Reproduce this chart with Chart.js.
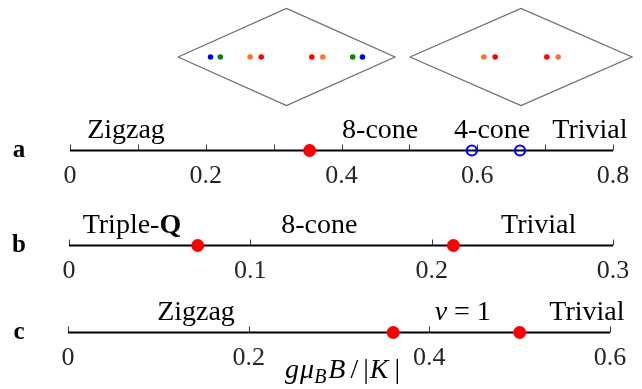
<!DOCTYPE html>
<html><head><meta charset="utf-8">
<script src="https://cdn.jsdelivr.net/npm/chart.js@4/dist/chart.umd.min.js"></script>
<style>html,body{margin:0;padding:0;background:#fff;}#wrap{width:642px;height:389px;position:relative}</style>
</head><body><div id="wrap"><canvas id="c" width="642" height="389"></canvas></div>
<script>
// ---- Panel a ----
const rangeA = [0, 0.8];
const ticksA = [0, 0.1, 0.2, 0.3, 0.4, 0.5, 0.6, 0.7, 0.8];
const tickLabelsA = ['0', '', '0.2', '', '0.4', '', '0.6', '', '0.8'];
const filledA = [0.353];
const openA = [0.592, 0.663];
const regionNamesA = ['Zigzag', '8-cone', '4-cone', 'Trivial'];
const regionPosA = [0.0825, 0.457, 0.622, 0.766];
// ---- Panel b ----
const rangeB = [0, 0.3];
const ticksB = [0, 0.1, 0.2, 0.3];
const tickLabelsB = ['0', '0.1', '0.2', '0.3'];
const filledB = [0.071, 0.212];
const regionNamesB = ['Triple-Q', '8-cone', 'Trivial'];
const regionPosB = [0.0347, 0.138, 0.259];
// ---- Panel c ----
const rangeC = [0, 0.6];
const ticksC = [0, 0.2, 0.4, 0.6];
const tickLabelsC = ['0', '0.2', '0.4', '0.6'];
const filledC = [0.36, 0.50];
const regionNamesC = ['Zigzag', 'ν = 1', 'Trivial'];
const regionPosC = [0.1417, 0.437, 0.5745];
// ---- Brillouin-zone insets (units of half-diagonal) ----
const zoneX = [-1, 0, 1, 0, -1];
const zoneY = [0, 1, 0, -1, 0];
const dots1X = [-0.70, -0.61, -0.335, -0.233, 0.233, 0.335, 0.61, 0.70];
const dots1C = ['blue', 'green', 'orange', 'red', 'red', 'orange', 'green', 'blue'];
const dots2X = [-0.335, -0.233, 0.233, 0.335];
const dots2C = ['orange', 'red', 'red', 'orange'];
const panelLetters = ['a', 'b', 'c'];

// ---- styles / layout ----
const COL = {blue: '#0000ff', green: '#008a00', orange: '#ff6f2f', red: '#ff0000'};
const SERIF = '"Liberation Serif", "DejaVu Serif", serif';
const W = 642, H = 389;
const ROW = {ya: 150.5, yb: 245.5, yc: 332.5};
const pts = arr => arr.map(x => ({x, y: 0}));

function xAxis(yId, min, max, ticks, labels) {
  return {
    type: 'linear', axis: 'x', position: {[yId]: 0}, min, max, bounds: 'data',
    afterBuildTicks: s => { s.ticks = ticks.map(v => ({value: v})); },
    ticks: {callback: (v, i) => labels[i], autoSkip: false, maxRotation: 0, minRotation: 0,
            padding: 0, color: '#262626', font: {family: SERIF, size: 26}},
    grid: {drawOnChartArea: false, drawTicks: true, tickLength: 10, tickColor: 'rgba(0,0,0,0)', color: 'rgba(0,0,0,0)'},
    border: {display: false}
  };
}
function yRow(p) { return {type: 'linear', display: false, min: p - H, max: p}; }

const lineDs = (data, xId, yId) => ({type: 'line', data: pts(data), xAxisID: xId, yAxisID: yId,
  borderColor: '#000', borderWidth: 2.2, pointRadius: 0, order: 5, clip: false});
const redDs = (data, xId, yId) => ({type: 'scatter', data: pts(data), xAxisID: xId, yAxisID: yId,
  pointRadius: 6.5, pointHoverRadius: 6.5, backgroundColor: COL.red, borderColor: COL.red, borderWidth: 0, order: 0, clip: false});

const datasets = [
  lineDs(rangeA, 'xa', 'ya'), lineDs(rangeB, 'xb', 'yb'), lineDs(rangeC, 'xc', 'yc'),
  redDs(filledA, 'xa', 'ya'), redDs(filledB, 'xb', 'yb'), redDs(filledC, 'xc', 'yc'),
  {type: 'scatter', data: pts(openA), xAxisID: 'xa', yAxisID: 'ya', pointRadius: 5, pointHoverRadius: 5,
   backgroundColor: 'rgba(0,0,0,0)', borderColor: COL.blue, borderWidth: 2.2, order: 0, clip: false},
  {type: 'line', data: zoneX.map((x, i) => ({x, y: zoneY[i]})), xAxisID: 'k1', yAxisID: 'ky',
   borderColor: '#6a6a6a', borderWidth: 1.2, pointRadius: 0, tension: 0, order: 5, clip: false},
  {type: 'line', data: zoneX.map((x, i) => ({x, y: zoneY[i]})), xAxisID: 'k2', yAxisID: 'ky',
   borderColor: '#6a6a6a', borderWidth: 1.2, pointRadius: 0, tension: 0, order: 5, clip: false},
  {type: 'scatter', data: dots1X.map(x => ({x, y: 0})), xAxisID: 'k1', yAxisID: 'ky',
   pointRadius: 2.8, backgroundColor: dots1C.map(c => COL[c]), borderWidth: 0, order: 0, clip: false},
  {type: 'scatter', data: dots2X.map(x => ({x, y: 0})), xAxisID: 'k2', yAxisID: 'ky',
   pointRadius: 2.8, backgroundColor: dots2C.map(c => COL[c]), borderWidth: 0, order: 0, clip: false}
];

function drawRich(ctx, segs, cx, y) {
  let total = 0;
  const ws = segs.map(s => { ctx.font = `${s.st || ''} ${s.sz}px ${SERIF}`; const w = ctx.measureText(s.t).width + (s.gap || 0); total += w; return w; });
  let x = cx - total / 2;
  ctx.textAlign = 'left'; ctx.textBaseline = 'alphabetic';
  segs.forEach((s, i) => { ctx.font = `${s.st || ''} ${s.sz}px ${SERIF}`; ctx.fillText(s.t, x, y + (s.dy || 0)); x += ws[i]; });
}
function labelSegs(name) {
  if (name === 'Triple-Q') return [{t: 'Triple-', sz: 28}, {t: 'Q', st: 'bold', sz: 28}];
  if (name === 'ν = 1') return [{t: 'ν', st: 'italic', sz: 28}, {t: ' = 1', sz: 28}];
  return [{t: name, sz: 28}];
}

const textPlugin = {
  id: 'phaseText',
  beforeDatasetsDraw(chart) {
    const ctx = chart.ctx;
    ctx.save(); ctx.strokeStyle = '#3a3a3a'; ctx.lineWidth = 1;
    [['xa', 'ya'], ['xb', 'yb'], ['xc', 'yc']].forEach(([xi, yi]) => {
      const sx = chart.scales[xi], y0 = chart.scales[yi].getPixelForValue(0);
      sx.ticks.forEach(t => {
        const x = Math.round(sx.getPixelForValue(t.value)) + 0.5;
        ctx.beginPath(); ctx.moveTo(x, y0); ctx.lineTo(x, y0 - 6); ctx.stroke();
      });
    });
    ctx.restore();
  },
  afterDraw(chart) {
    const ctx = chart.ctx;
    ctx.save(); ctx.fillStyle = '#000';
    const rows = [['xa', 'ya', regionNamesA, regionPosA], ['xb', 'yb', regionNamesB, regionPosB], ['xc', 'yc', regionNamesC, regionPosC]];
    rows.forEach(([xi, yi, names, pos], r) => {
      const sx = chart.scales[xi], y0 = chart.scales[yi].getPixelForValue(0);
      names.forEach((n, i) => drawRich(ctx, labelSegs(n), sx.getPixelForValue(pos[i]), y0 - 13));
      ctx.font = `bold 25px ${SERIF}`; ctx.textAlign = 'center'; ctx.textBaseline = 'alphabetic';
      ctx.fillText(panelLetters[r], 19, y0 + 6);
    });
    // axis title
    const sc = chart.scales.xc, yc = chart.scales.yc.getPixelForValue(0);
    drawRich(ctx, [
      {t: 'g', st: 'italic', sz: 28, gap: 1}, {t: 'μ', st: 'italic', sz: 28},
      {t: 'B', st: 'italic', sz: 20, dy: 5, gap: 2}, {t: 'B', st: 'italic', sz: 28, gap: 5},
      {t: '/', sz: 28, gap: 5}, {t: '|', sz: 28, gap: 1}, {t: 'K', st: 'italic', sz: 28, gap: 6}, {t: '|', sz: 28}
    ], sc.getPixelForValue(0.304), yc + 45);
    ctx.restore();
  }
};

new Chart(document.getElementById('c'), {
  data: {datasets},
  options: {
    responsive: false, animation: false, devicePixelRatio: 1,
    layout: {padding: 0, autoPadding: false},
    plugins: {legend: {display: false}, tooltip: {enabled: false}},
    events: [],
    scales: {
      ya: yRow(ROW.ya), yb: yRow(ROW.yb), yc: yRow(ROW.yc),
      ky: {type: 'linear', display: false, min: 57 / 48.5 - H / 48.5, max: 57 / 48.5},
      k1: {type: 'linear', axis: 'x', display: false, min: -286.5 / 108.5, max: (W - 286.5) / 108.5},
      k2: {type: 'linear', axis: 'x', display: false, min: -521 / 111, max: (W - 521) / 111},
      xa: xAxis('ya', -70 / 678.75, 0.8 + 29 / 678.75, ticksA, tickLabelsA),
      xb: xAxis('yb', -69 / 1813.3, 0.3 + 29 / 1813.3, ticksB, tickLabelsB),
      xc: xAxis('yc', -68 / 903.33, 0.6 + 32 / 903.33, ticksC, tickLabelsC)
    }
  },
  plugins: [textPlugin]
});
</script></body></html>
